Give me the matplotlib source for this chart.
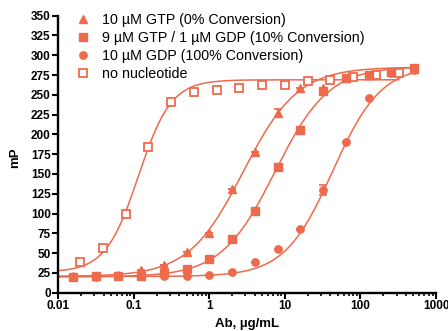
import numpy as np
import matplotlib
matplotlib.use("Agg")
import matplotlib.pyplot as plt
from matplotlib.lines import Line2D
from matplotlib.ticker import FixedLocator, LogLocator, NullFormatter, FixedFormatter

plt.rcParams['font.family'] = ['Liberation Sans', 'DejaVu Sans']

# ---------------- data ----------------
conc_filled = [0.015625, 0.03125, 0.0625, 0.125, 0.25, 0.5, 1, 2, 4, 8, 16, 32, 64, 128, 256, 512]
gtp_mp = [20.5, 21, 22.5, 28.5, 35, 51.5, 76, 131, 178, 227, 259, 259, 271, 275, 279, 283]
gtp_err = [0, 0, 0, 0, 0, 0, 0, 0, 0, 4.6, 0, 0, 0, 0, 0, 0]
mix_mp = [20, 20.5, 21, 21.5, 24.5, 29.5, 42, 67.5, 103, 159, 206, 255, 271, 275, 279, 284]
mix_err = [0] * 16
gdp_mp = [19.5, 20, 20.5, 20.5, 20.5, 21, 22.5, 26.5, 38.5, 55, 80.5, 130, 191, 246.5, 277, 282]
gdp_err = [0, 0, 0, 0, 0, 0, 0, 0, 0, 0, 0, 6.3, 0, 0, 0, 0]

conc_open = [0.01953, 0.03906, 0.07813, 0.15625, 0.3125, 0.625, 1.25, 2.5, 5, 10, 20, 40, 80, 160, 320]
none_mp = [38.5, 56, 100, 184, 241, 253, 255.5, 259, 262, 263, 267, 269, 272, 275, 277]

labels = ["10 \u00b5M GTP (0% Conversion)",
          "9 \u00b5M GTP / 1 \u00b5M GDP (10% Conversion)",
          "10 \u00b5M GDP (100% Conversion)",
          "no nucleotide"]

# four-parameter logistic fit parameters (bottom, top, EC50, Hill)
fit_gtp = (20.5, 285, 2.8, 1.2)
fit_mix = (20, 286, 7.4, 1.22)
fit_gdp = (20.5, 287, 43, 1.36)
fit_none = (26, 269, 0.115, 2.0)

xticks = [0.01, 0.1, 1, 10, 100, 1000]
xticklabels = ["0.01", "0.1", "1", "10", "100", "1000"]
yticks = list(range(0, 351, 25))

# ---------------- style ----------------
C = '#EE6A4D'
W, H = 448, 331
fig = plt.figure(figsize=(W / 100, H / 100), dpi=100)
ax = fig.add_axes([58.3 / W, 1 - 292.7 / H, (436 - 58.3) / W, (292.7 - 15.7) / H])


def four_pl(x, p):
    b, t, c, h = p
    x = np.asarray(x)
    return b + (t - b) / (1 + (c / x) ** h)


def curve(p, xmax):
    xs = np.logspace(np.log10(0.01), np.log10(xmax), 300)
    ax.plot(xs, four_pl(xs, p), color=C, lw=1.1, zorder=2, clip_on=False)


curve(fit_gtp, conc_filled[-1])
curve(fit_mix, conc_filled[-1])
curve(fit_gdp, conc_filled[-1])
curve(fit_none, conc_open[-1])

ms = 5.6
ax.errorbar(conc_filled, gtp_mp, yerr=gtp_err, fmt='^', color=C, ms=ms + 0.4,
            capsize=3, elinewidth=1.2, capthick=1.2, zorder=3, clip_on=False)
ax.errorbar(conc_filled, mix_mp, yerr=mix_err, fmt='s', color=C, ms=ms - 0.4,
            capsize=3, elinewidth=1.2, capthick=1.2, zorder=3, clip_on=False)
ax.errorbar(conc_filled, gdp_mp, yerr=gdp_err, fmt='o', color=C, ms=ms - 0.3,
            capsize=3, elinewidth=1.2, capthick=1.2, zorder=3, clip_on=False)
ax.plot(conc_open, none_mp, 's', mfc='white', mec=C, mew=1.3, ms=ms - 0.3,
        zorder=3, clip_on=False)

ax.set_xscale('log')
ax.set_xlim(0.01, 1000)
ax.set_ylim(0, 350)

ax.xaxis.set_major_locator(FixedLocator(xticks))
ax.xaxis.set_major_formatter(FixedFormatter(xticklabels))
ax.xaxis.set_minor_locator(LogLocator(base=10, subs=np.arange(2, 10)))
ax.xaxis.set_minor_formatter(NullFormatter())
ax.set_yticks(yticks)
ax.set_yticklabels([str(v) for v in yticks])

for s in ['top', 'right']:
    ax.spines[s].set_visible(False)
for s in ['left', 'bottom']:
    ax.spines[s].set_linewidth(1.7)

ax.tick_params(axis='both', which='major', length=4, width=1.5, pad=1.5,
               labelsize=8.5, direction='out')
ax.tick_params(axis='x', which='minor', length=2.5, width=1.2, direction='out')
for lab in ax.get_xticklabels() + ax.get_yticklabels():
    lab.set_fontweight('bold')

fig.text(247 / W, 1 - 323.5 / H, "Ab, \u00b5g/mL", ha='center', va='center',
         fontsize=9.5, fontweight='bold')
fig.text(15 / W, 1 - 158 / H, "mP", ha='center', va='center', rotation=90,
         fontsize=9.5, fontweight='bold')

handles = [
    Line2D([], [], ls='none', marker='^', color=C, ms=ms + 0.4),
    Line2D([], [], ls='none', marker='s', color=C, ms=ms - 0.4),
    Line2D([], [], ls='none', marker='o', color=C, ms=ms - 0.3),
    Line2D([], [], ls='none', marker='s', mfc='white', mec=C, mew=1.3, ms=ms - 0.3),
]
fig.legend(handles, labels, loc='upper left', bbox_to_anchor=(76 / W, 1 - 13 / H),
           bbox_transform=fig.transFigure, frameon=False, borderpad=0,
           borderaxespad=0, handlelength=1.0, handletextpad=0.85,
           labelspacing=0.28, fontsize=10.3)

fig.savefig('out.png', dpi=100)
